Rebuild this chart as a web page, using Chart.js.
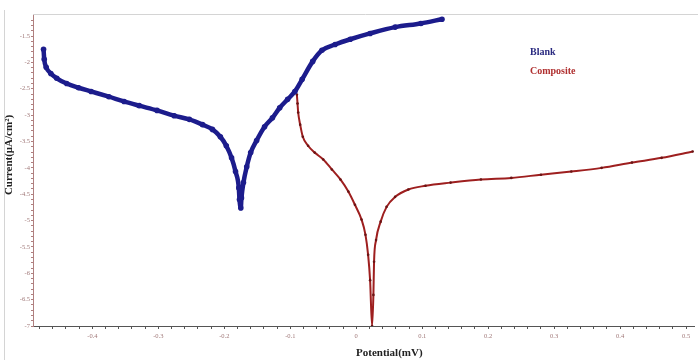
<!DOCTYPE html>
<html>
<head>
<meta charset="utf-8">
<script src="https://cdn.jsdelivr.net/npm/chart.js@4.4.1/dist/chart.umd.min.js"></script>
<style>
  html, body { margin: 0; padding: 0; background: #fff; }
  #wrap { width: 698px; height: 360px; }
</style>
</head>
<body>
<div id="wrap"><canvas id="tafel" width="698" height="360"></canvas></div>
<script>
// potential (mV) / log current values
const blankX = [-0.474, -0.473, -0.470, -0.463, -0.454, -0.439, -0.421, -0.402, -0.375, -0.352,
  -0.329, -0.302, -0.276, -0.253, -0.233, -0.218, -0.206, -0.197, -0.189, -0.183,
  -0.178, -0.177, -0.175, -0.174, -0.171, -0.166, -0.160, -0.151, -0.139, -0.127,
  -0.116, -0.104, -0.093, -0.082, -0.066, -0.052, -0.032, -0.009,
  0.021, 0.059, 0.098, 0.130];
const blankY = [-1.75, -1.94, -2.09, -2.21, -2.30, -2.40, -2.48, -2.55, -2.65, -2.74,
  -2.82, -2.91, -3.01, -3.08, -3.18, -3.27, -3.41, -3.58, -3.81, -4.07,
  -4.38, -4.60, -4.76, -4.57, -4.28, -3.98, -3.71, -3.48, -3.22, -3.05,
  -2.86, -2.70, -2.55, -2.32, -1.98, -1.77, -1.66, -1.56,
  -1.45, -1.33, -1.26, -1.18];

const compX = [-0.090, -0.089, -0.088, -0.085, -0.081, -0.073, -0.063, -0.050, -0.037, -0.024,
  -0.012, -0.002, 0.008, 0.014, 0.018, 0.021, 0.024, 0.026, 0.027, 0.030,
  0.037, 0.046, 0.059, 0.079, 0.105, 0.143, 0.189, 0.235, 0.280, 0.326,
  0.372, 0.418, 0.463, 0.510];
const compY = [-2.61, -2.78, -2.95, -3.18, -3.41, -3.58, -3.71, -3.84, -4.03, -4.22,
  -4.45, -4.70, -4.98, -5.27, -5.65, -6.13, -7.00, -6.41, -5.78, -5.37,
  -5.02, -4.74, -4.55, -4.41, -4.34, -4.28, -4.22, -4.19, -4.13, -4.07,
  -4.00, -3.90, -3.81, -3.69];

const seriesNames = ['Blank', 'Composite'];
const seriesColors = ['#1c1c8c', '#9e1f1f'];

function toPoints(xs, ys) {
  return xs.map((x, i) => ({ x: x, y: ys[i] }));
}

// axis titles, frame lines and the in-plot legend
const textPlugin = {
  id: 'textPlugin',
  beforeDraw(chart) {
    const ctx = chart.ctx;
    ctx.save();
    ctx.strokeStyle = '#d4d4d4';
    ctx.lineWidth = 1;
    ctx.beginPath();
    ctx.moveTo(chart.chartArea.left, 14.5);
    ctx.lineTo(698, 14.5);
    ctx.moveTo(4.5, 10);
    ctx.lineTo(4.5, 360);
    ctx.stroke();
    ctx.restore();
  },
  afterDraw(chart) {
    const ctx = chart.ctx;
    ctx.save();
    ctx.font = 'bold 11px "Liberation Serif", serif';
    ctx.fillStyle = '#222';
    ctx.textAlign = 'left';
    ctx.textBaseline = 'middle';
    ctx.fillText('Potential(mV)', 356, 353);

    ctx.translate(9, 155);
    ctx.rotate(-Math.PI / 2);
    ctx.textAlign = 'center';
    ctx.fillText('Current(\u03bcA/cm\u00b2)', 0, 0);
    ctx.restore();

    ctx.save();
    ctx.font = 'bold 10px "Liberation Serif", serif';
    ctx.textBaseline = 'middle';
    ctx.fillStyle = '#2a2a80';
    ctx.fillText(seriesNames[0], 530, 52);
    ctx.fillStyle = '#b03030';
    ctx.fillText(seriesNames[1], 530, 71);
    ctx.restore();
  }
};

const tickColor = '#a07878';

function makeTicks(from, to, step) {
  const out = [];
  const n = Math.round((to - from) / step);
  for (let i = 0; i <= n; i++) out.push({ value: +(from + i * step).toFixed(4) });
  return out;
}

new Chart('tafel', {
  type: 'scatter',
  data: {
    datasets: [{
      label: seriesNames[0],
      data: toPoints(blankX, blankY),
      showLine: true,
      borderColor: seriesColors[0],
      backgroundColor: seriesColors[0],
      borderWidth: 4.5,
      borderJoinStyle: 'round',
      cubicInterpolationMode: 'monotone',
      pointRadius: 2.8,
      pointBorderWidth: 0
    }, {
      label: seriesNames[1],
      data: toPoints(compX, compY),
      showLine: true,
      borderColor: seriesColors[1],
      backgroundColor: '#6a1414',
      borderWidth: 2,
      borderJoinStyle: 'round',
      cubicInterpolationMode: 'monotone',
      pointRadius: 1.3,
      pointBorderWidth: 0
    }]
  },
  options: {
    responsive: false,
    animation: false,
    layout: { padding: { top: 15, right: 3, left: 0, bottom: 0 } },
    plugins: {
      legend: { display: false },
      tooltip: { enabled: false }
    },
    scales: {
      x: {
        type: 'linear',
        min: -0.49,
        max: 0.512,
        afterFit: (s) => { s.height = 34; },
        afterBuildTicks: (s) => { s.ticks = makeTicks(-0.48, 0.5, 0.02); },
        border: { display: true, color: '#555', width: 1 },
        grid: { display: true, drawOnChartArea: false, tickLength: 3, color: '#555' },
        ticks: {
          autoSkip: false,
          maxRotation: 0,
          color: tickColor,
          font: { size: 6.5, family: '"Liberation Serif", serif' },
          padding: 3,
          callback: (v) => {
            const t = v * 10;
            if (Math.abs(t - Math.round(t)) > 1e-6) return '';
            return (Math.round(t) / 10).toString();
          }
        }
      },
      y: {
        type: 'linear',
        min: -7,
        max: -1.1,
        afterFit: (s) => { s.width = 33; },
        afterBuildTicks: (s) => { s.ticks = makeTicks(-7, -1.2, 0.1); },
        border: { display: true, color: '#b08080', width: 1, dash: [1, 2] },
        grid: { display: true, drawOnChartArea: false, tickLength: 2, color: '#b08080' },
        ticks: {
          autoSkip: false,
          color: tickColor,
          font: { size: 6.5, family: '"Liberation Serif", serif' },
          padding: 1,
          callback: (v) => {
            const t = v * 2;
            if (Math.abs(t - Math.round(t)) > 1e-6) return '';
            return (Math.round(t) / 2).toString();
          }
        }
      }
    }
  },
  plugins: [textPlugin]
});
</script>
</body>
</html>
